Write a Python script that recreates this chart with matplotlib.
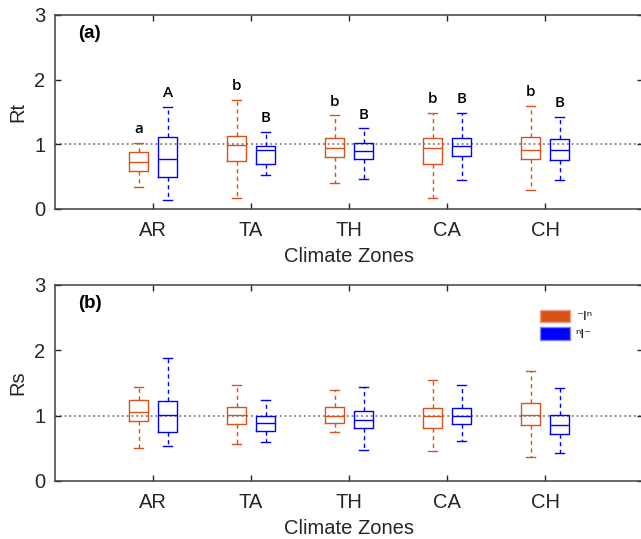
import matplotlib
matplotlib.use("Agg")
import matplotlib.pyplot as plt
from matplotlib.patches import Patch

ZONES = ["AR", "TA", "TH", "CA", "CH"]
SERIES = ["⁻Iⁿ", "ⁿI⁻"]

# ---- panel (a): Rt ---- #
RT_1_LO = [0.335, 0.175, 0.407, 0.17, 0.288]
RT_1_Q1 = [0.587, 0.736, 0.808, 0.695, 0.777]
RT_1_MED = [0.73, 0.99, 0.94, 0.94, 0.906]
RT_1_Q3 = [0.875, 1.127, 1.096, 1.096, 1.117]
RT_1_HI = [1.02, 1.69, 1.446, 1.487, 1.60]

RT_2_LO = [0.134, 0.52, 0.458, 0.453, 0.443]
RT_2_Q1 = [0.50, 0.695, 0.777, 0.823, 0.757]
RT_2_MED = [0.772, 0.91, 0.89, 0.968, 0.916]
RT_2_Q3 = [1.117, 0.978, 1.024, 1.10, 1.076]
RT_2_HI = [1.585, 1.19, 1.245, 1.49, 1.43]

RT_1_LETTERS = ["a", "b", "b", "b", "b"]
RT_2_LETTERS = ["A", "B", "B", "B", "B"]

# ---- panel (b): Rs ---- #
RS_1_LO = [0.506, 0.572, 0.746, 0.455, 0.363]
RS_1_Q1 = [0.915, 0.874, 0.889, 0.807, 0.864]
RS_1_MED = [1.058, 1.01, 1.0, 0.99, 1.01]
RS_1_Q3 = [1.237, 1.14, 1.13, 1.12, 1.196]
RS_1_HI = [1.44, 1.467, 1.40, 1.548, 1.686]

RS_2_LO = [0.54, 0.593, 0.475, 0.608, 0.434]
RS_2_Q1 = [0.746, 0.77, 0.818, 0.874, 0.715]
RS_2_MED = [1.017, 0.894, 0.935, 0.99, 0.853]
RS_2_Q3 = [1.23, 1.0, 1.068, 1.12, 1.006]
RS_2_HI = [1.886, 1.247, 1.446, 1.47, 1.43]

ORANGE = "#D95319"
BLUE = "#0000FF"
plt.rcParams["font.family"] = ["Liberation Sans", "DejaVu Sans"]


def stats(lo, q1, med, q3, hi):
    return [dict(whislo=a, q1=b, med=c, q3=d, whishi=e, fliers=[])
            for a, b, c, d, e in zip(lo, q1, med, q3, hi)]


def draw_boxes(ax, st, pos, color):
    ax.bxp(st, positions=pos, widths=0.19, capwidths=0.09, showfliers=False,
           boxprops=dict(color=color, lw=1.0),
           medianprops=dict(color=color, lw=1.0),
           whiskerprops=dict(color=color, lw=1.0, ls=(0, (3, 2.5))),
           capprops=dict(color=color, lw=1.0), manage_ticks=False)


def style(ax, ylabel, tag):
    ax.set_xlim(0, 6)
    ax.set_ylim(0, 3)
    ax.set_xticks(range(1, len(ZONES) + 1))
    ax.set_xticklabels(ZONES)
    ax.set_yticks([0, 1, 2, 3])
    ax.axhline(1, ls=":", c="#808080", lw=1.3, zorder=0)
    ax.tick_params(direction="in", length=4, width=1, top=True, right=True,
                   labelsize=14.5, colors="#262626")
    ax.tick_params(axis="x", pad=9)
    ax.tick_params(axis="y", pad=7)
    for s in ax.spines.values():
        s.set_color("#404040"); s.set_linewidth(1.1)
    ax.set_xlabel("Climate Zones", fontsize=14.5, color="#262626", labelpad=5)
    ax.set_ylabel(ylabel, fontsize=14.5, color="#262626", labelpad=5)
    ax.text(0.235, 2.72, tag, fontsize=13.5, fontweight="bold", va="center")


fig = plt.figure(figsize=(6.41, 5.39), dpi=100)
ax_a = fig.add_axes([55 / 641, (539 - 209) / 539, 588 / 641, 194 / 539])
ax_b = fig.add_axes([55 / 641, (539 - 481) / 539, 588 / 641, 196 / 539])

x1 = [i + 1 - 0.145 for i in range(len(ZONES))]
x2 = [i + 1 + 0.15 for i in range(len(ZONES))]

draw_boxes(ax_a, stats(RT_1_LO, RT_1_Q1, RT_1_MED, RT_1_Q3, RT_1_HI), x1, ORANGE)
draw_boxes(ax_a, stats(RT_2_LO, RT_2_Q1, RT_2_MED, RT_2_Q3, RT_2_HI), x2, BLUE)
for x, h, t in zip(x1, RT_1_HI, RT_1_LETTERS):
    ax_a.text(x, h + 0.21, t, ha="center", va="center", fontsize=11,
              family="Open Sans", fontweight="semibold")
for x, h, t in zip(x2, RT_2_HI, RT_2_LETTERS):
    ax_a.text(x, h + 0.21, t, ha="center", va="center", fontsize=11,
              family="Open Sans", fontweight="semibold")
style(ax_a, "Rt", "(a)")

draw_boxes(ax_b, stats(RS_1_LO, RS_1_Q1, RS_1_MED, RS_1_Q3, RS_1_HI), x1, ORANGE)
draw_boxes(ax_b, stats(RS_2_LO, RS_2_Q1, RS_2_MED, RS_2_Q3, RS_2_HI), x2, BLUE)
style(ax_b, "Rs", "(b)")
handles = [Patch(facecolor=ORANGE, edgecolor="#E8A080"),
           Patch(facecolor=BLUE, edgecolor="#8080FF")]
ax_b.legend(handles, SERIES, loc="upper left", bbox_to_anchor=(0.825, 0.875),
            frameon=False, handlelength=2.3, handleheight=1.1,
            handletextpad=0.4, labelspacing=0.3, borderaxespad=0,
            borderpad=0, prop=dict(family=["DejaVu Sans"], size=9.5))

fig.savefig("out.png", dpi=100)
